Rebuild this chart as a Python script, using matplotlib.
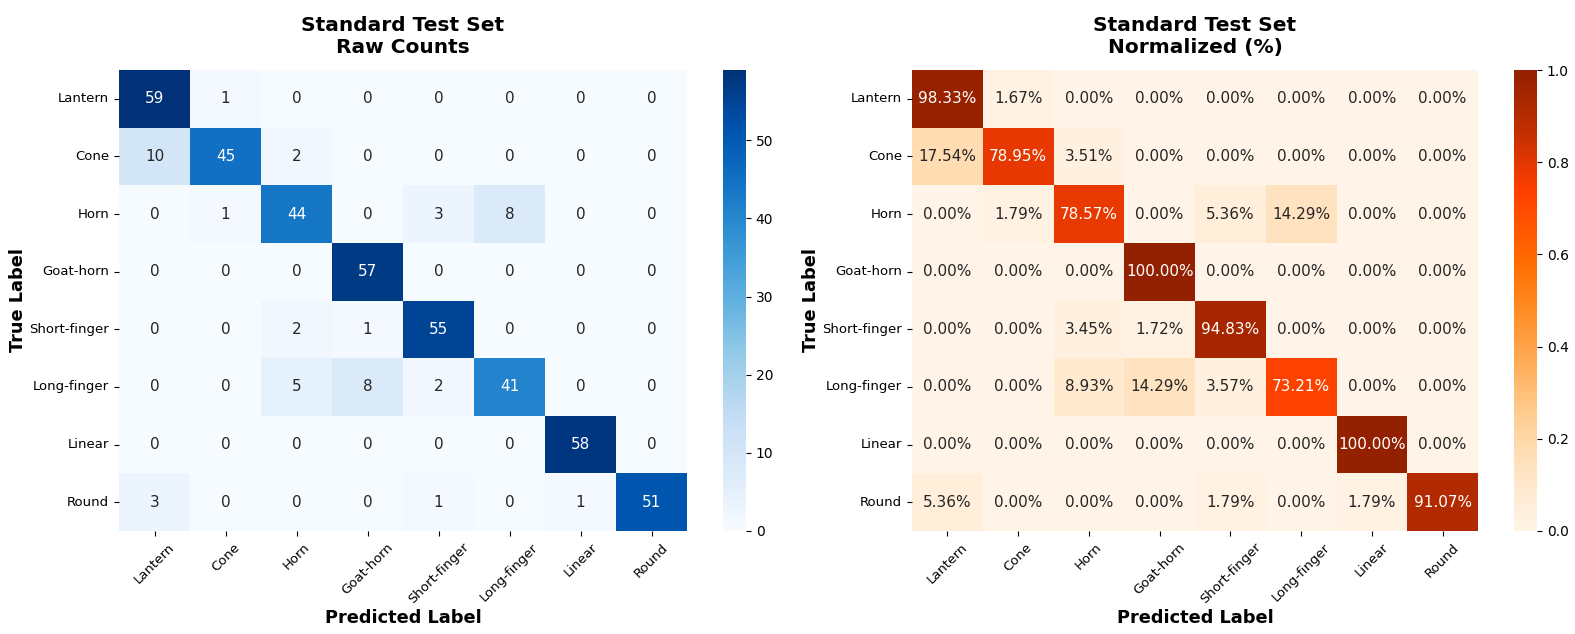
import matplotlib
matplotlib.use("Agg")
import matplotlib.pyplot as plt
from matplotlib.colors import ListedColormap
import seaborn as sns
import numpy as np

classes = ["Lantern", "Cone", "Horn", "Goat-horn", "Short-finger", "Long-finger", "Linear", "Round"]

counts = [
    [59, 1, 0, 0, 0, 0, 0, 0],
    [10, 45, 2, 0, 0, 0, 0, 0],
    [0, 1, 44, 0, 3, 8, 0, 0],
    [0, 0, 0, 57, 0, 0, 0, 0],
    [0, 0, 2, 1, 55, 0, 0, 0],
    [0, 0, 5, 8, 2, 41, 0, 0],
    [0, 0, 0, 0, 0, 0, 58, 0],
    [3, 0, 0, 0, 1, 0, 1, 51],
]

percent = [
    [98.33, 1.67, 0.00, 0.00, 0.00, 0.00, 0.00, 0.00],
    [17.54, 78.95, 3.51, 0.00, 0.00, 0.00, 0.00, 0.00],
    [0.00, 1.79, 78.57, 0.00, 5.36, 14.29, 0.00, 0.00],
    [0.00, 0.00, 0.00, 100.00, 0.00, 0.00, 0.00, 0.00],
    [0.00, 0.00, 3.45, 1.72, 94.83, 0.00, 0.00, 0.00],
    [0.00, 0.00, 8.93, 14.29, 3.57, 73.21, 0.00, 0.00],
    [0.00, 0.00, 0.00, 0.00, 0.00, 0.00, 100.00, 0.00],
    [5.36, 0.00, 0.00, 0.00, 1.79, 0.00, 1.79, 91.07],
]


def vivid(name, k):
    base = plt.get_cmap(name)(np.linspace(0, 1, 256))[:, :3]
    gray = (base @ np.array([0.299, 0.587, 0.114]))[:, None]
    out = np.clip(gray + k * (base - gray), 0, 1)
    return ListedColormap(out, name=name + "_vivid")


W, H = 1575, 634
fig = plt.figure(figsize=(W / 100, H / 100), dpi=100)


def box(x0, y0, x1, y1):
    return [x0 / W, 1 - y1 / H, (x1 - x0) / W, (y1 - y0) / H]


ax1 = fig.add_axes(box(119, 70, 687, 531))
cax1 = fig.add_axes(box(723, 70, 746, 531))
ax2 = fig.add_axes(box(912, 70, 1478, 531))
cax2 = fig.add_axes(box(1514, 70, 1537, 531))

cnt = np.array(counts)
frac = np.array(percent) / 100.0
annot2 = np.array([[f"{v:.2f}%" for v in row] for row in percent])

sns.heatmap(cnt, ax=ax1, cbar_ax=cax1, cmap=vivid("Blues", 1.2), annot=True, fmt="d",
            annot_kws={"size": 11}, xticklabels=classes, yticklabels=classes)
sns.heatmap(frac, ax=ax2, cbar_ax=cax2, cmap=vivid("Oranges", 1.3), annot=annot2, fmt="",
            vmin=0, vmax=1, annot_kws={"size": 11}, xticklabels=classes, yticklabels=classes)

for ax, sub in [(ax1, "Raw Counts"), (ax2, "Normalized (%)")]:
    ax.set_title(f"Standard Test Set\n{sub}", fontsize=14.5, fontweight="bold", pad=12)
    ax.set_xlabel("Predicted Label", fontsize=12.8, fontweight="bold", labelpad=2)
    ax.set_ylabel("True Label", fontsize=12.8, fontweight="bold", labelpad=2)
    ax.tick_params(axis="y", labelsize=9.5, rotation=0)
    ax.tick_params(axis="x", labelsize=9.5)
    for lab in ax.get_xticklabels():
        lab.set_rotation(45)
        lab.set_ha("center")

for cax in (cax1, cax2):
    cax.tick_params(labelsize=10)

cax1.set_yticks([0, 10, 20, 30, 40, 50])
cax2.set_yticks([0.0, 0.2, 0.4, 0.6, 0.8, 1.0])

fig.savefig("out.png", dpi=100)
